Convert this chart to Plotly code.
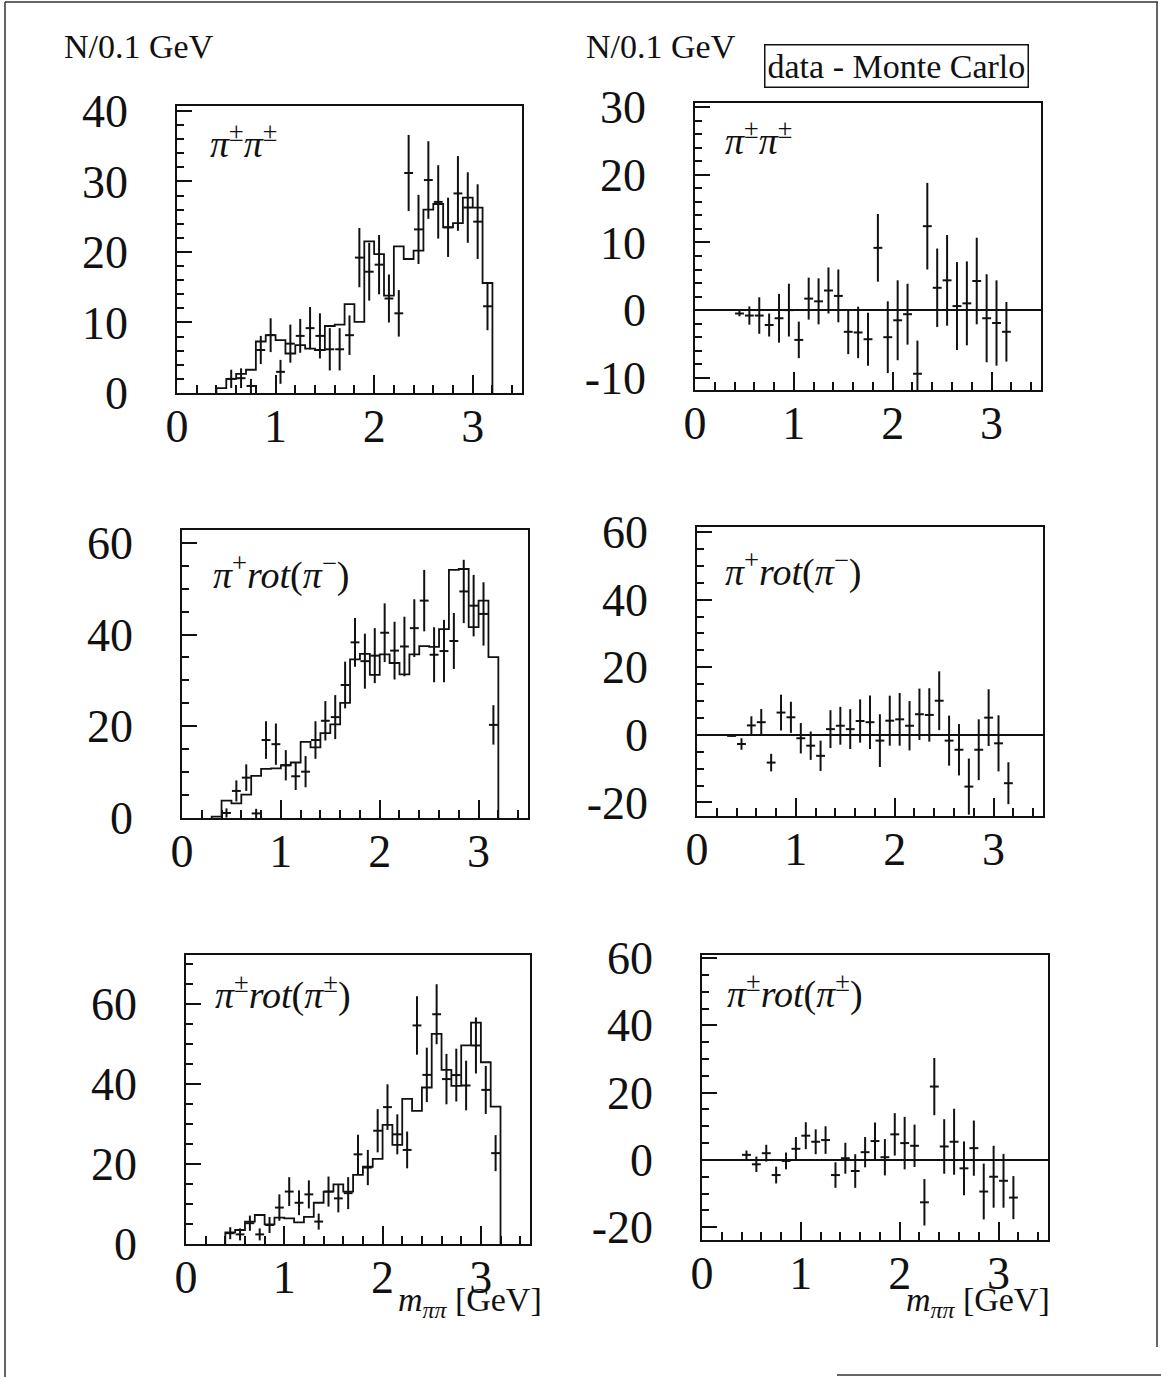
import plotly.graph_objects as go

# ---------------------------------------------------------------------------
# m(pi pi) spectra, N per 0.1 GeV bin: data (crosses) and Monte Carlo (steps),
# plus the data - Monte Carlo differences in the right-hand column.
# ---------------------------------------------------------------------------

# --- pi+- pi+- -------------------------------------------------------------
ss_x = [0.55, 0.65, 0.75, 0.85, 0.95, 1.05, 1.15, 1.25, 1.35, 1.45, 1.55, 1.65, 1.75, 1.85,
        1.95, 2.05, 2.15, 2.25, 2.35, 2.45, 2.55, 2.65, 2.75, 2.85, 2.95, 3.05, 3.15]
ss_data = [2.0, 2.1, 1.0, 6.1, 8.2, 3.0, 7.0, 8.1, 9.2, 8.1, 6.2, 6.2, 8.2, 19.2,
           17.2, 18.2, 13.4, 11.3, 31.2, 23.2, 30.2, 27.1, 23.5, 28.3, 26.3, 24.3, 12.3]
ss_err = [1.3, 1.4, 1.0, 2.0, 2.4, 1.7, 2.7, 2.4, 3.0, 3.2, 3.0, 3.0, 2.8, 4.2,
          4.1, 4.2, 3.4, 3.3, 5.4, 4.9, 5.5, 5.2, 4.2, 5.3, 5.0, 5.3, 3.4]
ss_mc_edges = [0.4, 0.5, 0.6, 0.7, 0.8, 0.9, 1.0, 1.1, 1.2, 1.3, 1.4, 1.5, 1.6, 1.7, 1.8,
               1.9, 2.0, 2.1, 2.2, 2.3, 2.4, 2.5, 2.6, 2.7, 2.8, 2.9, 3.0, 3.1, 3.2]
ss_mc = [0.7, 2.0, 2.7, 3.3, 7.3, 8.2, 7.5, 5.6, 6.8, 6.3, 6.1, 9.5, 9.7, 12.6,
         10.1, 21.5, 19.7, 13.8, 20.8, 19.0, 20.2, 26.0, 26.8, 23.5, 24.1, 27.7, 26.3, 15.6]

ss_diff_x = [0.45, 0.55, 0.65, 0.75, 0.85, 0.95, 1.05, 1.15, 1.25, 1.35, 1.45, 1.55, 1.65, 1.75,
             1.85, 1.95, 2.05, 2.15, 2.25, 2.35, 2.45, 2.55, 2.65, 2.75, 2.85, 2.95, 3.05, 3.15]
ss_diff = [-0.5, -0.8, -0.8, -2.2, -1.2, 0.0, -4.4, 1.7, 1.3, 2.9, 2.1, -3.2, -3.3, -4.3,
           9.2, -4.0, -1.5, -0.6, -9.4, 12.4, 3.3, 4.4, 0.6, 1.0, 4.3, -1.2, -1.9, -3.2]
ss_diff_err = [0.4, 1.35, 2.7, 1.7, 3.6, 3.9, 2.7, 3.1, 3.4, 3.4, 3.9, 3.3, 3.8, 3.9,
               5.0, 5.3, 5.9, 4.5, 4.9, 6.4, 5.8, 6.7, 6.5, 6.2, 6.4, 6.5, 6.3, 4.4]

# --- pi+ rot(pi-) ----------------------------------------------------------
os_x = [0.45, 0.55, 0.65, 0.75, 0.85, 0.95, 1.05, 1.15, 1.25, 1.35, 1.45, 1.55, 1.65, 1.75,
        1.85, 1.95, 2.05, 2.15, 2.25, 2.35, 2.45, 2.55, 2.65, 2.75, 2.85, 2.95, 3.05, 3.15]
os_data = [1.1, 5.9, 8.8, 1.0, 17.0, 16.1, 11.5, 9.1, 10.1, 17.0, 21.2, 22.0, 29.0, 38.3,
           34.2, 35.4, 40.4, 36.5, 37.4, 41.4, 47.4, 35.6, 36.4, 38.6, 49.4, 46.3, 44.5, 20.3]
os_err = [1.0, 2.3, 2.9, 1.0, 4.1, 4.5, 3.3, 3.0, 3.4, 4.1, 4.3, 4.8, 5.1, 5.3,
          6.0, 6.0, 6.4, 6.3, 6.5, 6.3, 6.7, 6.0, 6.8, 6.1, 6.9, 6.7, 6.9, 4.3]
os_mc_edges = [0.3, 0.4, 0.5, 0.6, 0.7, 0.8, 0.9, 1.0, 1.1, 1.2, 1.3, 1.4, 1.5, 1.6, 1.7, 1.8,
               1.9, 2.0, 2.1, 2.2, 2.3, 2.4, 2.5, 2.6, 2.7, 2.8, 2.9, 3.0, 3.1, 3.2]
os_mc = [0.3, 3.8, 3.2, 5.1, 9.2, 10.7, 10.8, 11.5, 12.1, 16.6, 15.4, 18.5, 20.4, 25.1, 34.6,
         35.8, 31.2, 35.7, 33.8, 31.3, 35.7, 37.5, 37.3, 41.2, 54.1, 54.3, 41.6, 47.4, 35.1]

os_diff_x = [0.35, 0.45, 0.55, 0.65, 0.75, 0.85, 0.95, 1.05, 1.15, 1.25, 1.35, 1.45, 1.55, 1.65,
             1.75, 1.85, 1.95, 2.05, 2.15, 2.25, 2.35, 2.45, 2.55, 2.65, 2.75, 2.85, 2.95, 3.05,
             3.15]
os_diff = [-0.3, -2.7, 2.8, 3.75, -8.2, 6.6, 5.2, -1.0, -3.2, -6.2, 1.7, 2.7, 1.7, 4.1,
           3.75, -1.7, 4.2, 4.6, 2.7, 6.1, 5.9, 10.1, -1.7, -4.4, -15.3, -4.4, 5.1, -2.5, -14.3]
os_diff_err = [0.3, 1.7, 2.7, 3.9, 2.6, 5.3, 4.6, 4.5, 4.2, 4.5, 5.6, 5.6, 5.9, 6.4,
               7.9, 7.8, 7.4, 7.8, 7.3, 7.6, 7.9, 8.7, 7.4, 7.6, 8.3, 9.0, 8.4, 8.3, 6.2]

# --- pi+- rot(pi+-) --------------------------------------------------------
sr_x = [0.45, 0.55, 0.65, 0.75, 0.85, 0.95, 1.05, 1.15, 1.25, 1.35, 1.45, 1.55, 1.65, 1.75,
        1.85, 1.95, 2.05, 2.15, 2.25, 2.35, 2.45, 2.55, 2.65, 2.75, 2.85, 2.95, 3.05, 3.15]
sr_data = [2.7, 2.4, 5.2, 2.4, 4.75, 9.1, 13.1, 10.3, 12.4, 5.6, 13.1, 11.4, 12.7, 22.4,
           19.1, 28.3, 34.2, 27.4, 23.5, 54.6, 42.25, 57.4, 41.2, 42.2, 39.6, 49.6, 38.5, 22.7]
sr_err = [1.5, 1.5, 1.9, 1.5, 2.0, 3.3, 3.6, 3.1, 3.5, 2.0, 3.75, 3.5, 4.0, 4.9,
          4.4, 5.4, 5.7, 5.0, 4.6, 7.3, 6.8, 7.5, 6.3, 6.6, 6.2, 7.0, 6.0, 4.5]
sr_mc_edges = [0.4, 0.5, 0.6, 0.7, 0.8, 0.9, 1.0, 1.1, 1.2, 1.3, 1.4, 1.5, 1.6, 1.7, 1.8,
               1.9, 2.0, 2.1, 2.2, 2.3, 2.4, 2.5, 2.6, 2.7, 2.8, 2.9, 3.0, 3.1, 3.2]
sr_mc = [2.9, 3.5, 5.6, 7.25, 4.9, 6.6, 6.4, 5.4, 6.8, 10.3, 13.1, 14.9, 13.1, 17.25,
         19.3, 21.25, 29.75, 24.75, 36.25, 33.25, 39.1, 52.5, 43.5, 39.5, 49.6, 55.3, 45.4, 34.3]

sr_diff_x = [0.45, 0.55, 0.65, 0.75, 0.85, 0.95, 1.05, 1.15, 1.25, 1.35, 1.45, 1.55, 1.65, 1.75,
             1.85, 1.95, 2.05, 2.15, 2.25, 2.35, 2.45, 2.55, 2.65, 2.75, 2.85, 2.95, 3.05, 3.15]
sr_diff = [1.5, -1.3, 2.0, -4.5, -0.3, 3.3, 7.2, 5.4, 5.9, -4.5, 0.5, -3.3, 2.3, 5.6,
           0.8, 7.6, 5.0, 4.2, -12.6, 21.8, 4.0, 5.4, -2.5, 3.5, -9.4, -5.0, -6.2, -11.2]
sr_diff_err = [1.3, 2.3, 2.5, 2.5, 2.5, 3.5, 4.0, 3.7, 4.1, 3.8, 4.6, 5.0, 4.5, 5.5,
               5.4, 6.3, 7.8, 6.3, 6.9, 8.5, 8.1, 9.8, 8.0, 8.2, 8.3, 9.2, 8.0, 6.4]

# --- axis ticks and labels ---------------------------------------------------
x_tickvals = [0, 1, 2, 3]
x_ticktext = ["0", "1", "2", "3"]
y_ticks_ss = [0, 10, 20, 30, 40]
y_text_ss = ["0", "10", "20", "30", "40"]
y_ticks_ss_diff = [-10, 0, 10, 20, 30]
y_text_ss_diff = ["-10", "0", "10", "20", "30"]
y_ticks_60 = [0, 20, 40, 60]
y_text_60 = ["0", "20", "40", "60"]
y_ticks_60_diff = [-20, 0, 20, 40, 60]
y_text_60_diff = ["-20", "0", "20", "40", "60"]

label_ss = "<i>π</i><sup>±</sup><i>π</i><sup>±</sup>"
label_os = "<i>π</i><sup>+</sup><i>rot</i>(<i>π</i><sup>−</sup>)"
label_sr = "<i>π</i><sup>±</sup><i>rot</i>(<i>π</i><sup>±</sup>)"
y_title = "N/0.1 GeV"
x_title = "<i>m</i><sub><i>ππ</i></sub> [GeV]"
diff_title = "data - Monte Carlo"

# ---------------------------------------------------------------------------
W, H = 1161, 1377
FONT = "Liberation Serif"
INK = "#111111"


def fx(px):
    return px / W


def fy(py):
    return 1 - py / H


# panel frames in pixels: (left, right, top, bottom), y range, tick setup
panels = [
    dict(frame=(177, 522, 106, 393), yr=[0, 40.7], yt=y_ticks_ss, ytt=y_text_ss, ym=2,
         label=label_ss, lab_xy=(208, 141),
         data=(ss_x, ss_data, ss_err), mc=(ss_mc_edges, ss_mc)),
    dict(frame=(695, 1041, 103, 390), yr=[-11.8, 30.6], yt=y_ticks_ss_diff, ytt=y_text_ss_diff, ym=2,
         label=label_ss, lab_xy=(723, 138),
         data=(ss_diff_x, ss_diff, ss_diff_err), mc=None),
    dict(frame=(182, 528, 530, 818), yr=[0, 62.8], yt=y_ticks_60, ytt=y_text_60, ym=5,
         label=label_os, lab_xy=(211, 572),
         data=(os_x, os_data, os_err), mc=(os_mc_edges, os_mc)),
    dict(frame=(697, 1043, 527, 816), yr=[-24, 61.5], yt=y_ticks_60_diff, ytt=y_text_60_diff, ym=5,
         label=label_os, lab_xy=(723, 569),
         data=(os_diff_x, os_diff, os_diff_err), mc=None),
    dict(frame=(186, 530, 955, 1244), yr=[0, 72.2], yt=y_ticks_60, ytt=y_text_60, ym=5,
         label=label_sr, lab_xy=(213, 992),
         data=(sr_x, sr_data, sr_err), mc=(sr_mc_edges, sr_mc)),
    dict(frame=(702, 1048, 955, 1240), yr=[-23.8, 60.9], yt=y_ticks_60_diff, ytt=y_text_60_diff, ym=5,
         label=label_sr, lab_xy=(725, 991),
         data=(sr_diff_x, sr_diff, sr_diff_err), mc=None),
]

fig = go.Figure()
layout = dict(
    width=W, height=H, margin=dict(l=0, r=0, t=0, b=0, autoexpand=False),
    paper_bgcolor="white", plot_bgcolor="white", showlegend=False,
    font=dict(family=FONT, color=INK),
)
annotations = []

for i, p in enumerate(panels, start=1):
    xa = "x" if i == 1 else f"x{i}"
    ya = "y" if i == 1 else f"y{i}"
    left, right, top, bottom = p["frame"]
    is_diff = p["mc"] is None

    if p["mc"] is not None:
        edges, vals = p["mc"]
        fig.add_trace(go.Scatter(
            x=[edges[0]] + list(edges), y=[0] + list(vals) + [0],
            mode="lines", line=dict(shape="hv", color=INK, width=1.8),
            xaxis=xa, yaxis=ya, hoverinfo="skip"))

    xs, ys, es = p["data"]
    fig.add_trace(go.Scatter(
        x=xs, y=ys, mode="markers",
        marker=dict(size=1, color=INK),
        error_y=dict(type="data", array=es, visible=True, thickness=2, width=0, color=INK),
        error_x=dict(type="constant", value=0.045, visible=True, thickness=2, width=0, color=INK),
        xaxis=xa, yaxis=ya))

    axis_common = dict(
        showline=True, linecolor=INK, linewidth=1.6, mirror=True,
        showgrid=False, ticks="inside", tickcolor=INK, tickwidth=1.5,
        tickfont=dict(family=FONT, size=46, color=INK), automargin=False,
    )
    layout["xaxis" if i == 1 else f"xaxis{i}"] = dict(
        axis_common, domain=[fx(left), fx(right)], anchor=ya, range=[0, 3.5],
        tickmode="array", tickvals=x_tickvals, ticktext=x_ticktext, ticklen=18,
        ticklabelstandoff=-8, zeroline=False,
        minor=dict(ticks="inside", ticklen=8, tickwidth=1.5, tickcolor=INK,
                   tickmode="linear", tick0=0, dtick=0.2),
    )
    layout["yaxis" if i == 1 else f"yaxis{i}"] = dict(
        axis_common, domain=[fy(bottom), fy(top)], anchor=xa, range=p["yr"],
        tickmode="array", tickvals=p["yt"], ticktext=p["ytt"], ticklen=15,
        ticklabelstandoff=38,
        zeroline=is_diff, zerolinecolor=INK, zerolinewidth=1.6,
        minor=dict(ticks="inside", ticklen=7, tickwidth=1.5, tickcolor=INK,
                   tickmode="linear", tick0=0, dtick=p["ym"]),
    )

    lx, ly = p["lab_xy"]
    annotations.append(dict(
        text=p["label"], x=fx(lx), y=fy(ly), xref="paper", yref="paper",
        xanchor="left", yanchor="middle", showarrow=False,
        font=dict(family=FONT, size=38, color=INK)))

# column headers
for px_left in (62, 584):
    annotations.append(dict(
        text=y_title, x=fx(px_left), y=fy(46), xref="paper", yref="paper",
        xanchor="left", yanchor="middle", showarrow=False,
        font=dict(family=FONT, size=34, color=INK)))

annotations.append(dict(
    text=diff_title, x=fx(896), y=fy(66), xref="paper", yref="paper",
    xanchor="center", yanchor="middle", showarrow=False,
    font=dict(family=FONT, size=34, color=INK),
    bordercolor=INK, borderwidth=1.5, borderpad=2, bgcolor="white"))

# mass axis titles under the bottom row
for px_left in (396, 904):
    annotations.append(dict(
        text=x_title, x=fx(px_left), y=fy(1302), xref="paper", yref="paper",
        xanchor="left", yanchor="middle", showarrow=False,
        font=dict(family=FONT, size=34, color=INK)))

layout["annotations"] = annotations

# page frame lines
line_style = dict(color="#333333", width=1.5)
layout["shapes"] = [
    dict(type="line", xref="paper", yref="paper", x0=fx(5), x1=fx(5), y0=fy(2), y1=fy(1377), line=line_style),
    dict(type="line", xref="paper", yref="paper", x0=fx(5), x1=fx(1158), y0=fy(2), y1=fy(2), line=line_style),
    dict(type="line", xref="paper", yref="paper", x0=fx(1157), x1=fx(1157), y0=fy(2), y1=fy(1347), line=line_style),
    dict(type="line", xref="paper", yref="paper", x0=fx(837), x1=fx(1161), y0=fy(1375), y1=fy(1375), line=line_style),
]

fig.update_layout(**layout)
fig.write_html("out.html")
